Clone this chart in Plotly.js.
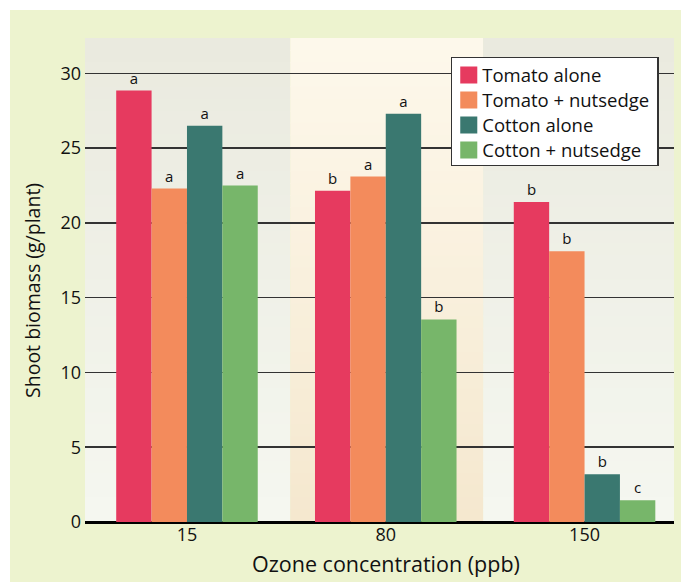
<!DOCTYPE html>
<html>
<head>
<meta charset="utf-8">
<script src="https://cdn.plot.ly/plotly-3.0.1.min.js"></script>
<style>html,body{margin:0;padding:0;background:#fff;}#chart{width:681px;height:582px;}</style>
</head>
<body>
<div id="chart"></div>
<script>
// ---- data ----
const categories = ["15", "80", "150"];
const seriesNames = ["Tomato alone", "Tomato + nutsedge", "Cotton alone", "Cotton + nutsedge"];
const tomatoAlone = [28.85, 22.15, 21.4];
const tomatoNutsedge = [22.3, 23.1, 18.1];
const cottonAlone = [26.5, 27.3, 3.2];
const cottonNutsedge = [22.5, 13.55, 1.45];
const tomatoAloneLetters = ["a", "b", "b"];
const tomatoNutsedgeLetters = ["a", "a", "b"];
const cottonAloneLetters = ["a", "a", "b"];
const cottonNutsedgeLetters = ["a", "b", "c"];
const yTickVals = [0, 5, 10, 15, 20, 25, 30];

const colors = ["#e63a5f", "#f38b5c", "#3a7870", "#77b66a"];
const FONT = "Open Sans, Noto Sans, sans-serif";

const values = [tomatoAlone, tomatoNutsedge, cottonAlone, cottonNutsedge];
const letters = [tomatoAloneLetters, tomatoNutsedgeLetters, cottonAloneLetters, cottonNutsedgeLetters];

const traces = values.map((v, i) => ({
  type: "bar",
  name: seriesNames[i],
  x: [0, 1, 2],
  y: v,
  text: letters[i],
  textposition: "outside",
  cliponaxis: false,
  textfont: {family: FONT, size: 15, color: "#111"},
  marker: {color: colors[i], line: {width: 0}},
  hoverinfo: "skip"
}));

// background bands with vertical gradient (styling only)
function hex(c){return [parseInt(c.slice(1,3),16),parseInt(c.slice(3,5),16),parseInt(c.slice(5,7),16)];}
function mix(a,b,t){const A=hex(a),B=hex(b);return "rgb("+A.map((v,k)=>Math.round(v+(B[k]-v)*t)).join(",")+")";}
const bands = [
  {x0: -0.6, x1: 0.52, top: "#eaeadf", bot: "#f5f7f0"},
  {x0: 0.52, x1: 1.49, top: "#fdf8eb", bot: "#f5e8cf"},
  {x0: 1.49, x1: 2.6, top: "#eaeadf", bot: "#f5f7f0"}
];
const shapes = [];
const N = 40;
bands.forEach(b => {
  for (let k = 0; k < N; k++) {
    shapes.push({type: "rect", layer: "below", xref: "x", yref: "paper",
      x0: b.x0, x1: b.x1, y0: 1 - (k + 1) / N, y1: 1 - k / N + 0.002,
      fillcolor: mix(b.top, b.bot, k / (N - 1)), line: {width: 0}});
  }
});
// white margin strips (top and left) outside the green frame
shapes.push({type: "rect", layer: "below", xref: "paper", yref: "paper",
  x0: -0.2, x1: -0.1273, y0: -0.2, y1: 1.2, fillcolor: "#ffffff", line: {width: 0}});
shapes.push({type: "rect", layer: "below", xref: "paper", yref: "paper",
  x0: -0.2, x1: 1.2, y0: 1.0600, y1: 1.2, fillcolor: "#ffffff", line: {width: 0}});

const layout = {
  width: 681, height: 582,
  margin: {l: 85, r: 7, t: 39, b: 60},
  paper_bgcolor: "#edf3cf",
  plot_bgcolor: "rgba(0,0,0,0)",
  barmode: "group",
  bargap: 0.288,
  bargroupgap: 0,
  font: {family: FONT, color: "#111"},
  xaxis: {
    range: [-0.513, 2.45],
    tickvals: [0, 1, 2],
    ticktext: categories,
    showgrid: false, zeroline: false, showline: false,
    ticks: "",
    tickfont: {family: FONT, size: 18, color: "#111"},
    fixedrange: true
  },
  yaxis: {
    range: [0, 32.3],
    tickvals: yTickVals,
    showgrid: true, gridcolor: "#333333", gridwidth: 1.5,
    zeroline: true, zerolinecolor: "#000000", zerolinewidth: 3,
    showline: false, ticks: "",
    ticklabelstandoff: 3,
    tickfont: {family: FONT, size: 18, color: "#111"},
    fixedrange: true
  },
  legend: {
    x: 0.621, y: 0.963, xanchor: "left", yanchor: "top",
    bgcolor: "#ffffff", bordercolor: "#333333", borderwidth: 1.5,
    font: {family: FONT, size: 18.5, color: "#111"},
    itemclick: false, itemdoubleclick: false
  },
  shapes: shapes,
  annotations: [
    {text: "Shoot biomass (g/plant)", xref: "paper", yref: "paper",
     x: (32 - 85) / 589, y: (522 - 291) / 483, xanchor: "center", yanchor: "middle",
     textangle: -90, showarrow: false, font: {family: FONT, size: 19.5, color: "#111"}},
    {text: "Ozone concentration (ppb)", xref: "paper", yref: "paper",
     x: (386 - 85) / 589, y: (522 - 563) / 483, xanchor: "center", yanchor: "middle",
     showarrow: false, font: {family: FONT, size: 21.5, color: "#111"}}
  ]
};

Plotly.newPlot("chart", traces, layout, {staticPlot: true, displayModeBar: false}).then(gd => {
  // legend styling: bigger square swatches, tighter text gap and row spacing
  const items = gd.querySelectorAll(".legend .traces");
  let y0 = null, x0 = 0;
  items.forEach((t, i) => {
    const m = /translate\(\s*([-\d.]+)[ ,]+([-\d.]+)\s*\)/.exec(t.getAttribute("transform") || "");
    if (m) {
      if (y0 === null) { y0 = parseFloat(m[2]) - 2; x0 = parseFloat(m[1]); }
      t.setAttribute("transform", "translate(" + x0 + "," + (y0 + i * 25) + ")");
    }
    t.querySelectorAll(".legendpoints path").forEach(p => {
      p.setAttribute("transform", "translate(16.5,0) scale(1.42)");
    });
    const txt = t.querySelector(".legendtext");
    if (txt) txt.setAttribute("x", parseFloat(txt.getAttribute("x")) - 10);
  });
  const bg = gd.querySelector(".legend .bg");
  if (bg) {
    bg.setAttribute("width", parseFloat(bg.getAttribute("width")) - 7);
    bg.setAttribute("height", 108);
  }
});
</script>
</body>
</html>
